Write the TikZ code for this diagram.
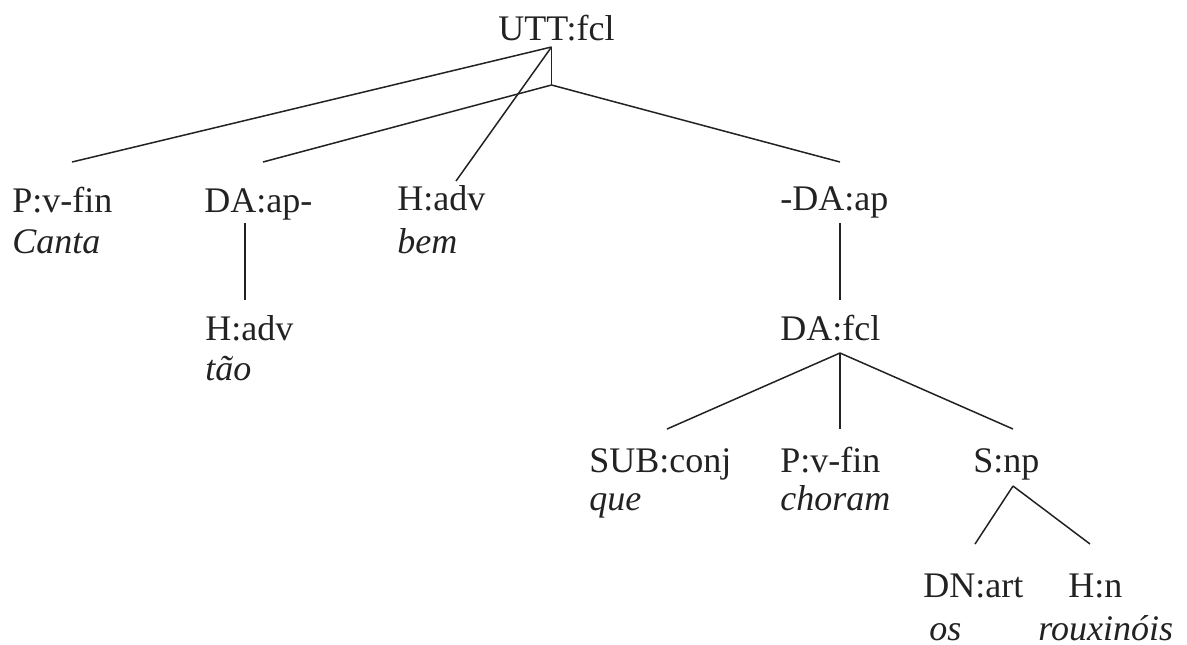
\documentclass[tikz,border=0pt]{standalone}
\usepackage{fontspec}
\setmainfont{Liberation Serif}
\usepackage{tikz}
\usetikzlibrary{positioning}
\definecolor{Ink}{HTML}{222222}
\tikzset{cat/.style={anchor=base west,inner sep=0pt,text=Ink,font=\fontsize{18}{21}\selectfont},word/.style={cat,font=\fontsize{18}{21}\selectfont\itshape},branch/.style={draw=Ink,line width=.75pt}}

\begin{document}
\begin{tikzpicture}[x=.5pt,y=-.5pt]
      \useasboundingbox (0,0) rectangle (1187,644);
      \node[cat](utt) at (498,40){UTT:fcl};
      \node[cat](pvfin) at (12,212){P:v-fin};
      \node[word](canta) at (12,253){Canta};
      \node[cat](daap) at (204,212){DA:ap-};
      \node[cat](hadvtao) at (205,340){H:adv};
      \node[word](tao) at (205,380){tão};
      \node[cat](hadvbem) at (397,210){H:adv};
      \node[word](bem) at (397,253){bem};
      \node[cat](dapright) at (780,210){-DA:ap};
      \node[cat](dafcl) at (780,340){DA:fcl};
      \node[cat](subconj) at (589,472){SUB:conj};
      \node[word](que) at (589,510){que};
      \node[cat](pvfinsub) at (780,472){P:v-fin};
      \node[word](choram) at (780,510){choram};
      \node[cat](snp) at (973,472){S:np};
      \node[cat](dnart) at (923,597){DN:art};
      \node[word](os) at (929,640){os};
      \node[cat](hn) at (1068,597){H:n};
      \node[word](roux) at (1038,640){rouxinóis};
      % top level
      \coordinate(split) at (551.5,85);
      \draw[branch]([shift={(53.5,7)}]utt.base west)--(split);
      \draw[branch]([shift={(53.5,7)}]utt.base west)--([shift={(60,-50)}]pvfin.base west);
      \draw[branch]([shift={(53.5,7)}]utt.base west)--([shift={(59,-29)}]hadvbem.base west);
      \draw[branch](split)--([shift={(59,-50)}]daap.base west);
      \draw[branch](split)--([shift={(60,-48)}]dapright.base west);
      % adverb phrases
      \draw[branch]([shift={(41,11)}]daap.base west)--([shift={(40,-40)}]hadvtao.base west);
      \draw[branch]([shift={(60,13)}]dapright.base west)--([shift={(60,-40)}]dafcl.base west);
      % subclause
      \draw[branch]([shift={(60,13)}]dafcl.base west)--([shift={(78,-43)}]subconj.base west);
      \draw[branch]([shift={(60,13)}]dafcl.base west)--([shift={(60,-43)}]pvfinsub.base west);
      \draw[branch]([shift={(60,13)}]dafcl.base west)--([shift={(40,-43)}]snp.base west);
      \draw[branch]([shift={(40,14)}]snp.base west)--([shift={(52,-53)}]dnart.base west);
      \draw[branch]([shift={(40,14)}]snp.base west)--([shift={(22,-53)}]hn.base west);
    \end{tikzpicture}
\end{document}
